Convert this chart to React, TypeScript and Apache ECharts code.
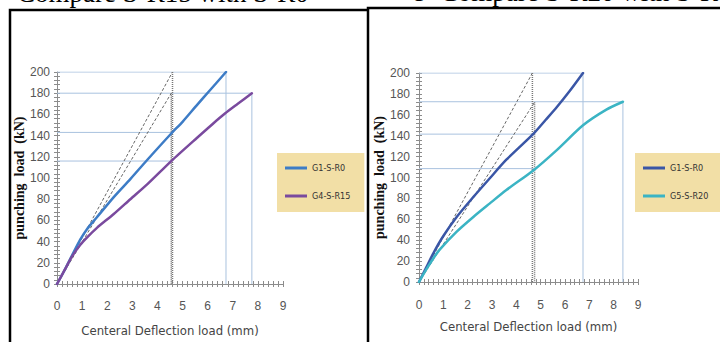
import React, { useEffect, useRef } from "react";
import * as echarts from "echarts";

// ---------- data ----------
const xTickMax = 9;
const yTickMax = 200;

// Left panel (b): G1-S-R0 vs G4-S-R15
const leftG1X = [0, 0.3, 0.6, 0.93, 1.2, 1.59, 2.26, 2.92, 3.59, 4.55, 5.0, 5.58, 6.1, 6.73];
const leftG1Y = [0, 13, 27, 42, 52, 63, 82, 99, 117, 142, 153, 169, 183, 200];
const leftG4X = [0, 0.3, 0.6, 0.93, 1.2, 1.59, 2.26, 2.92, 3.59, 4.55, 5.58, 6.2, 6.7, 7.2, 7.76];
const leftG4Y = [0, 13, 26, 37, 44, 53, 66, 80, 94, 116, 138, 151, 161, 170, 180];
const leftSecantTop = [[0, 0], [4.6, 200]];
const leftSecantLow = [[0, 0], [4.55, 180]];
const leftDropG1 = [[0, 200], [6.73, 200], [6.73, 0]];
const leftDropG4 = [[0, 180], [7.76, 180], [7.76, 0]];
const leftLevelG1 = [[0, 143], [4.58, 143]];
const leftLevelG4 = [[0, 116], [4.58, 116]];
const leftDotTop = [[4.6, 200], [4.6, 0]];
const leftDotLow = [[4.55, 180], [4.55, 0]];

// Right panel (c): G1-S-R0 vs G5-S-R20
const rightG1X = [0, 0.3, 0.6, 1.0, 1.54, 2.22, 2.9, 3.59, 4.71, 5.2, 5.65, 6.2, 6.74];
const rightG1Y = [0, 14, 28, 44, 62, 81, 99, 117, 142, 155, 167, 183, 200];
const rightG5X = [0, 0.3, 0.6, 0.85, 1.54, 2.22, 2.9, 3.59, 4.71, 5.65, 6.74, 7.7, 8.38];
const rightG5Y = [0, 12, 23, 31, 48, 62, 75, 88, 107, 126, 150, 165, 172.5];
const rightSecantTop = [[0, 0], [4.66, 200]];
const rightSecantLow = [[0, 0], [4.75, 172]];
const rightDropG1 = [[0, 200], [6.74, 200], [6.74, 0]];
const rightDropG5 = [[0, 172.5], [8.38, 172.5], [8.38, 0]];
const rightLevelG1 = [[0, 141.5], [4.72, 141.5]];
const rightLevelG5 = [[0, 108.5], [4.72, 108.5]];
const rightDotTop = [[4.66, 200], [4.66, 0]];
const rightDotLow = [[4.75, 172], [4.75, 0]];

const seriesNames = ["G1-S-R0", "G4-S-R15", "G5-S-R20"];
const xTitle = "Centeral Deflection load (mm)";
const yTitle = "punching  load  (kN)";
const leftHeading = "Compare S-R15 with S-R0";
const rightHeading = "c- Compare S-R20 with S-R0";

// ---------- styling ----------
const C_LEFT_G1 = "#3d7cc6";
const C_LEFT_G4 = "#7a4a9e";
const C_RIGHT_G1 = "#3a56a6";
const C_RIGHT_G5 = "#3bb4c4";
const C_AXIS = "#8c8c8c";
const C_DROP = "#a9c2df";
const C_GUIDE = "#666666";
const LEGEND_BG = "#f2dfa6";
const SANS = '"Liberation Sans", Arial, sans-serif';
const NARROW = '"Liberation Sans Narrow", "DejaVu Sans Condensed", "Liberation Sans", sans-serif';
const SERIF = '"Liberation Serif", "Times New Roman", serif';

const zip = (xs: number[], ys: number[]) => xs.map((x, i) => [x, ys[i]]);

function xAxes(gridIndex: number, labelMargin: number, nameGap: number) {
  const base = {
    type: "value",
    gridIndex,
    position: "bottom",
    min: 0,
    max: xTickMax,
    interval: 1,
    splitLine: { show: false },
    minorSplitLine: { show: false },
  };
  return [
    {
      ...base,
      axisLine: { show: true, lineStyle: { color: C_AXIS, width: 1 } },
      axisTick: { show: true, length: 3, lineStyle: { color: C_AXIS } },
      minorTick: { show: true, splitNumber: 5, length: 3, lineStyle: { color: C_AXIS } },
      axisLabel: { margin: labelMargin, color: "#555", fontSize: 12, fontFamily: SANS },
      name: xTitle,
      nameLocation: "middle",
      nameGap,
      nameTextStyle: { fontSize: 13, color: "#444", fontFamily: NARROW },
    },
    {
      ...base,
      axisLine: { show: false },
      axisTick: { show: true, inside: true, length: 3, lineStyle: { color: C_AXIS } },
      minorTick: { show: true, splitNumber: 5, length: 3, lineStyle: { color: C_AXIS } },
      axisLabel: { show: false },
    },
  ];
}

function yAxes(gridIndex: number, labelMargin: number, nameGap: number) {
  const base = {
    type: "value",
    gridIndex,
    position: "left",
    min: 0,
    max: yTickMax,
    interval: 20,
    splitLine: { show: false },
    minorSplitLine: { show: false },
  };
  return [
    {
      ...base,
      axisLine: { show: true, lineStyle: { color: C_AXIS, width: 1 } },
      axisTick: { show: true, length: 3, lineStyle: { color: C_AXIS } },
      minorTick: { show: true, splitNumber: 5, length: 3, lineStyle: { color: C_AXIS } },
      axisLabel: { margin: labelMargin, color: "#555", fontSize: 12, fontFamily: SANS },
      name: yTitle,
      nameLocation: "middle",
      nameRotate: 90,
      nameGap,
      nameTextStyle: { fontSize: 14, fontWeight: "bold", color: "#111", fontFamily: SERIF },
    },
    {
      ...base,
      axisLine: { show: false },
      axisTick: { show: true, inside: true, length: 3, lineStyle: { color: C_AXIS } },
      minorTick: { show: true, splitNumber: 5, length: 3, lineStyle: { color: C_AXIS } },
      axisLabel: { show: false },
    },
  ];
}

function guide(data: number[][], axisBase: number, kind: "drop" | "secant" | "dot") {
  const style =
    kind === "drop"
      ? { color: C_DROP, width: 1, type: "solid" }
      : kind === "secant"
      ? { color: C_GUIDE, width: 1, type: [3, 2] }
      : { color: "#777", width: 1.5, type: [1, 1] };
  return {
    type: "line",
    name: "guide",
    xAxisIndex: axisBase,
    yAxisIndex: axisBase,
    data,
    symbol: "none",
    silent: true,
    lineStyle: style,
    z: 1,
  };
}

function curve(name: string, data: number[][], color: string, axisBase: number) {
  return {
    type: "line",
    name,
    xAxisIndex: axisBase,
    yAxisIndex: axisBase,
    data,
    symbol: "none",
    smooth: 0.25,
    lineStyle: { color, width: 2.5, join: "round", cap: "round" },
    itemStyle: { color },
    z: 3,
  };
}

function legend(left: number, items: { name: string; color: string }[]) {
  return {
    orient: "vertical",
    left,
    top: 153,
    icon: "rect",
    itemWidth: 22,
    itemHeight: 3,
    itemGap: 16,
    padding: [9, 14, 10, 8],
    backgroundColor: LEGEND_BG,
    selectedMode: false,
    textStyle: { fontSize: 9, color: "#333", fontFamily: NARROW, lineHeight: 12 },
    data: items.map((it) => ({ name: it.name, itemStyle: { color: it.color }, lineStyle: { color: it.color } })),
  };
}

export default function App() {
  const ref = useRef<HTMLDivElement>(null);

  useEffect(() => {
    if (!ref.current) return;
    const chart = echarts.init(ref.current, null, { renderer: "svg" });
    const option: any = {
      animation: false,
      backgroundColor: "#ffffff",
      grid: [
        { left: 57, top: 72, width: 226, height: 213 },
        { left: 419, top: 73, width: 219, height: 209 },
      ],
      xAxis: [...xAxes(0, 16, 40), ...xAxes(1, 17, 38)],
      yAxis: [...yAxes(0, 7, 31), ...yAxes(1, 9, 28)],
      legend: [
        legend(277, [
          { name: seriesNames[0], color: C_LEFT_G1 },
          { name: seriesNames[1], color: C_LEFT_G4 },
        ]),
        legend(635, [
          { name: seriesNames[0], color: C_RIGHT_G1 },
          { name: seriesNames[2], color: C_RIGHT_G5 },
        ]),
      ],
      series: [
        guide(leftDropG1, 0, "drop"),
        guide(leftDropG4, 0, "drop"),
        guide(leftLevelG1, 0, "drop"),
        guide(leftLevelG4, 0, "drop"),
        guide(leftSecantTop, 0, "secant"),
        guide(leftSecantLow, 0, "secant"),
        guide(leftDotTop, 0, "dot"),
        guide(leftDotLow, 0, "dot"),
        curve(seriesNames[0], zip(leftG1X, leftG1Y), C_LEFT_G1, 0),
        curve(seriesNames[1], zip(leftG4X, leftG4Y), C_LEFT_G4, 0),
        guide(rightDropG1, 2, "drop"),
        guide(rightDropG5, 2, "drop"),
        guide(rightLevelG1, 2, "drop"),
        guide(rightLevelG5, 2, "drop"),
        guide(rightSecantTop, 2, "secant"),
        guide(rightSecantLow, 2, "secant"),
        guide(rightDotTop, 2, "dot"),
        guide(rightDotLow, 2, "dot"),
        curve(seriesNames[0], zip(rightG1X, rightG1Y), C_RIGHT_G1, 2),
        curve(seriesNames[2], zip(rightG5X, rightG5Y), C_RIGHT_G5, 2),
      ],
      graphic: [
        {
          type: "text",
          x: 17,
          y: -7,
          style: { text: leftHeading, font: `27px ${SERIF}`, fill: "#000", verticalAlign: "middle" },
          z: 10,
        },
        {
          type: "text",
          x: 412,
          y: -8,
          style: { text: rightHeading, font: `27px ${SERIF}`, fill: "#000", verticalAlign: "middle" },
          z: 10,
        },
        {
          type: "polyline",
          shape: { points: [[10, 345], [10, 10], [368, 10]] },
          style: { stroke: "#000", lineWidth: 2.5, fill: null },
          z: 10,
        },
        {
          type: "polyline",
          shape: { points: [[368, 345], [368, 8], [725, 8]] },
          style: { stroke: "#000", lineWidth: 2.5, fill: null },
          z: 10,
        },
      ],
    };
    chart.setOption(option);
    return () => chart.dispose();
  }, []);

  return (
    <div
      ref={ref}
      style={{ position: "fixed", left: 0, top: 0, width: 720, height: 342, background: "#fff" }}
    />
  );
}
